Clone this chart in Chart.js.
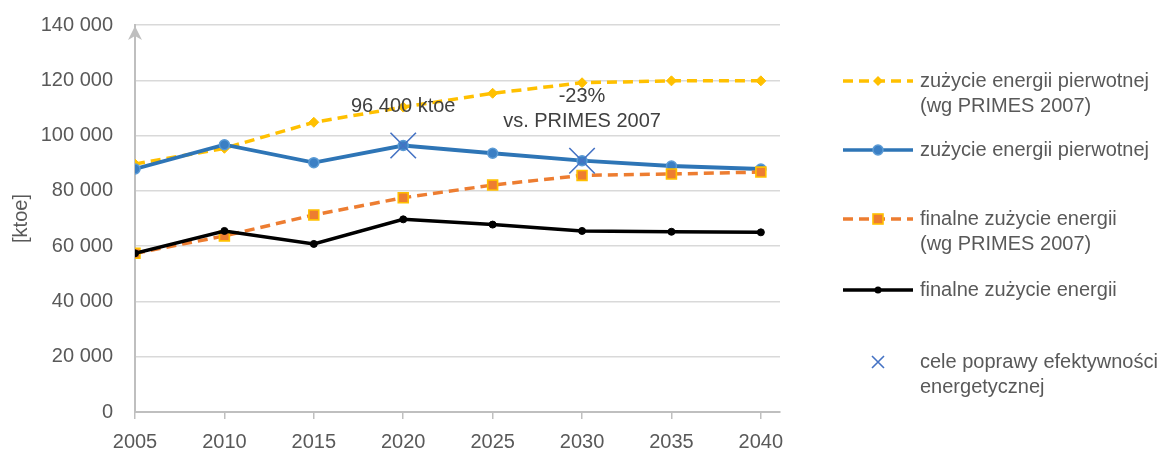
<!DOCTYPE html>
<html>
<head>
<meta charset="utf-8">
<script src="https://cdn.jsdelivr.net/npm/chart.js@4.4.1/dist/chart.umd.min.js"></script>
<style>
  html, body { margin: 0; padding: 0; background: #ffffff; }
  #wrap { width: 1158px; height: 452px; position: relative; }
</style>
</head>
<body>
<div id="wrap"><canvas id="c" width="1158" height="452"></canvas></div>
<script>
// ---- data ----
const years = [2005, 2010, 2015, 2020, 2025, 2030, 2035, 2040];
const primesPrimary = [89700, 95400, 104800, 110300, 115300, 119100, 119800, 119800];
const primary = [87900, 96700, 90200, 96400, 93600, 90900, 89000, 87900];
const primesFinal = [57400, 63700, 71300, 77500, 82100, 85600, 86100, 86800];
const finalUse = [57400, 65500, 60800, 69700, 67800, 65500, 65200, 65000];
const targetYears = [2020, 2030];
const targetValues = [96400, 90900];
const yTickValues = [0, 20000, 40000, 60000, 80000, 100000, 120000, 140000];
const legendLabels = [
  ["zużycie energii pierwotnej", "(wg PRIMES 2007)"],
  ["zużycie energii pierwotnej"],
  ["finalne zużycie energii", "(wg PRIMES 2007)"],
  ["finalne zużycie energii"],
  ["cele poprawy efektywności", "energetycznej"]
];
const annotation1 = ["96 400 ktoe"];
const annotation2 = ["-23%", "vs. PRIMES 2007"];
const yTitle = "[ktoe]";

const FONT = "'Liberation Sans', Arial, sans-serif";
const FS = 20;
const TXT = '#595959';

function pts(xs, ys) { return xs.map((x, i) => ({ x: x, y: ys[i] })); }
function fmt(v) { return String(v).replace(/\B(?=(\d{3})+(?!\d))/g, ' '); }

const C_YEL = '#FFC000', C_BLUE = '#2E75B6', C_ORA = '#ED7D31', C_BLK = '#000000', C_X = '#4472C4';

const datasets = [
  { label: legendLabels[4].join(' '), data: pts(targetYears, targetValues), showLine: false,
    pointStyle: 'crossRot', pointRadius: 18, pointBorderColor: C_X, pointBorderWidth: 1.6,
    borderColor: C_X, backgroundColor: C_X, order: 0 },
  { label: legendLabels[3].join(' '), data: pts(years, finalUse), borderColor: C_BLK, borderWidth: 3.5,
    pointStyle: 'circle', pointRadius: 3.5, pointBackgroundColor: C_BLK, pointBorderColor: C_BLK, pointBorderWidth: 1, order: 1 },
  { label: legendLabels[2].join(' '), data: pts(years, primesFinal), borderColor: C_ORA, borderWidth: 3.5, borderDash: [10, 6],
    pointStyle: 'rect', pointRadius: 7, pointBackgroundColor: C_ORA, pointBorderColor: C_YEL, pointBorderWidth: 1.6, order: 2 },
  { label: legendLabels[1].join(' '), data: pts(years, primary), borderColor: C_BLUE, borderWidth: 3.8,
    pointStyle: 'circle', pointRadius: 5, pointBackgroundColor: '#3B7FC4', pointBorderColor: '#5B9BD5', pointBorderWidth: 1.5, order: 3 },
  { label: legendLabels[0].join(' '), data: pts(years, primesPrimary), borderColor: C_YEL, borderWidth: 3.5, borderDash: [10, 6],
    pointStyle: 'rectRot', pointRadius: 5, pointBackgroundColor: C_YEL, pointBorderColor: C_YEL, pointBorderWidth: 1, order: 4 }
];

const extras = {
  id: 'extras',
  afterDraw(chart) {
    const ctx = chart.ctx, xs = chart.scales.x, ys = chart.scales.y, ca = chart.chartArea;
    ctx.save();
    // y-axis arrow
    ctx.fillStyle = '#bfbfbf';
    ctx.beginPath();
    ctx.moveTo(ca.left, ca.top + 1);
    ctx.lineTo(ca.left - 7, ca.top + 15);
    ctx.lineTo(ca.left, ca.top + 11);
    ctx.lineTo(ca.left + 7, ca.top + 15);
    ctx.closePath(); ctx.fill();

    // annotations
    ctx.font = FS + 'px ' + FONT; ctx.fillStyle = '#404040';
    ctx.textAlign = 'center'; ctx.textBaseline = 'middle';
    const p1x = xs.getPixelForValue(targetYears[0]), p1y = ys.getPixelForValue(targetValues[0]);
    ctx.fillText(annotation1[0], p1x, p1y - 39);
    const p2x = xs.getPixelForValue(targetYears[1]), p2y = ys.getPixelForValue(targetValues[1]);
    ctx.fillText(annotation2[0], p2x, p2y - 64);
    ctx.fillText(annotation2[1], p2x, p2y - 39);

    // legend
    const lx0 = 843, lx1 = 913, lmid = 878, tx = 920;
    const rows = [81, 150, 219, 290, 362];
    const lh = 25;
    const sty = [
      { c: C_YEL, dash: [10, 6] }, { c: C_BLUE, dash: [] }, { c: C_ORA, dash: [10, 6] }, { c: C_BLK, dash: [] }, null
    ];
    ctx.textAlign = 'left'; ctx.fillStyle = TXT;
    rows.forEach((ry, i) => {
      const s = sty[i];
      if (s) {
        ctx.save();
        ctx.strokeStyle = s.c; ctx.lineWidth = 3.5; ctx.setLineDash(s.dash);
        ctx.beginPath(); ctx.moveTo(lx0, ry); ctx.lineTo(lx1, ry); ctx.stroke();
        ctx.restore();
      }
      ctx.save();
      if (i === 0) {
        ctx.fillStyle = C_YEL; ctx.beginPath();
        ctx.moveTo(lmid, ry - 5); ctx.lineTo(lmid + 5, ry); ctx.lineTo(lmid, ry + 5); ctx.lineTo(lmid - 5, ry); ctx.closePath(); ctx.fill();
      } else if (i === 1) {
        ctx.fillStyle = '#3B7FC4'; ctx.strokeStyle = '#5B9BD5'; ctx.lineWidth = 1.5;
        ctx.beginPath(); ctx.arc(lmid, ry, 5, 0, Math.PI * 2); ctx.fill(); ctx.stroke();
      } else if (i === 2) {
        ctx.fillStyle = C_ORA; ctx.strokeStyle = C_YEL; ctx.lineWidth = 1.6;
        ctx.fillRect(lmid - 5, ry - 5, 10, 10); ctx.strokeRect(lmid - 5, ry - 5, 10, 10);
      } else if (i === 3) {
        ctx.fillStyle = C_BLK; ctx.beginPath(); ctx.arc(lmid, ry, 3.5, 0, Math.PI * 2); ctx.fill();
      } else {
        ctx.strokeStyle = C_X; ctx.lineWidth = 1.6; ctx.beginPath();
        ctx.moveTo(lmid - 6, ry - 6); ctx.lineTo(lmid + 6, ry + 6);
        ctx.moveTo(lmid + 6, ry - 6); ctx.lineTo(lmid - 6, ry + 6); ctx.stroke();
      }
      ctx.restore();
      legendLabels[i].forEach((t, k) => ctx.fillText(t, tx, ry + k * lh));
    });
    ctx.restore();
  }
};

new Chart(document.getElementById('c'), {
  type: 'line',
  data: { datasets: datasets },
  options: {
    responsive: false,
    devicePixelRatio: 1,
    animation: false,
    layout: { padding: { top: 25, right: 378, left: 9, bottom: 0 } },
    plugins: { legend: { display: false }, tooltip: { enabled: false } },
    elements: { line: { tension: 0, fill: false } },
    scales: {
      x: {
        type: 'linear', min: years[0], max: 2041.07,
        afterBuildTicks(scale) { scale.ticks = years.map(v => ({ value: v })); },
        afterFit(scale) { scale.height = 40; scale.paddingLeft = 0; scale.paddingRight = 0; },
        grid: { drawOnChartArea: false, drawTicks: true, tickLength: 7, color: '#bfbfbf', lineWidth: 1.5 },
        border: { display: true, color: '#bfbfbf', width: 2 },
        ticks: { color: TXT, font: { family: FONT, size: FS }, padding: 11, maxRotation: 0, autoSkip: false,
                 callback: v => String(v) }
      },
      y: {
        min: 0, max: 140000,
        afterBuildTicks(scale) { scale.ticks = yTickValues.map(v => ({ value: v })); },
        afterFit(scale) { scale.width = 126; scale.paddingTop = 0; scale.paddingBottom = 0; },
        grid: { color: '#d9d9d9', lineWidth: 1.5, drawTicks: false },
        border: { display: true, color: '#bfbfbf', width: 2 },
        ticks: { color: TXT, font: { family: FONT, size: FS }, padding: 22, callback: v => fmt(v) },
        title: { display: true, text: yTitle, color: TXT, font: { family: FONT, size: FS }, padding: 0 }
      }
    }
  },
  plugins: [extras]
});
</script>
</body>
</html>
